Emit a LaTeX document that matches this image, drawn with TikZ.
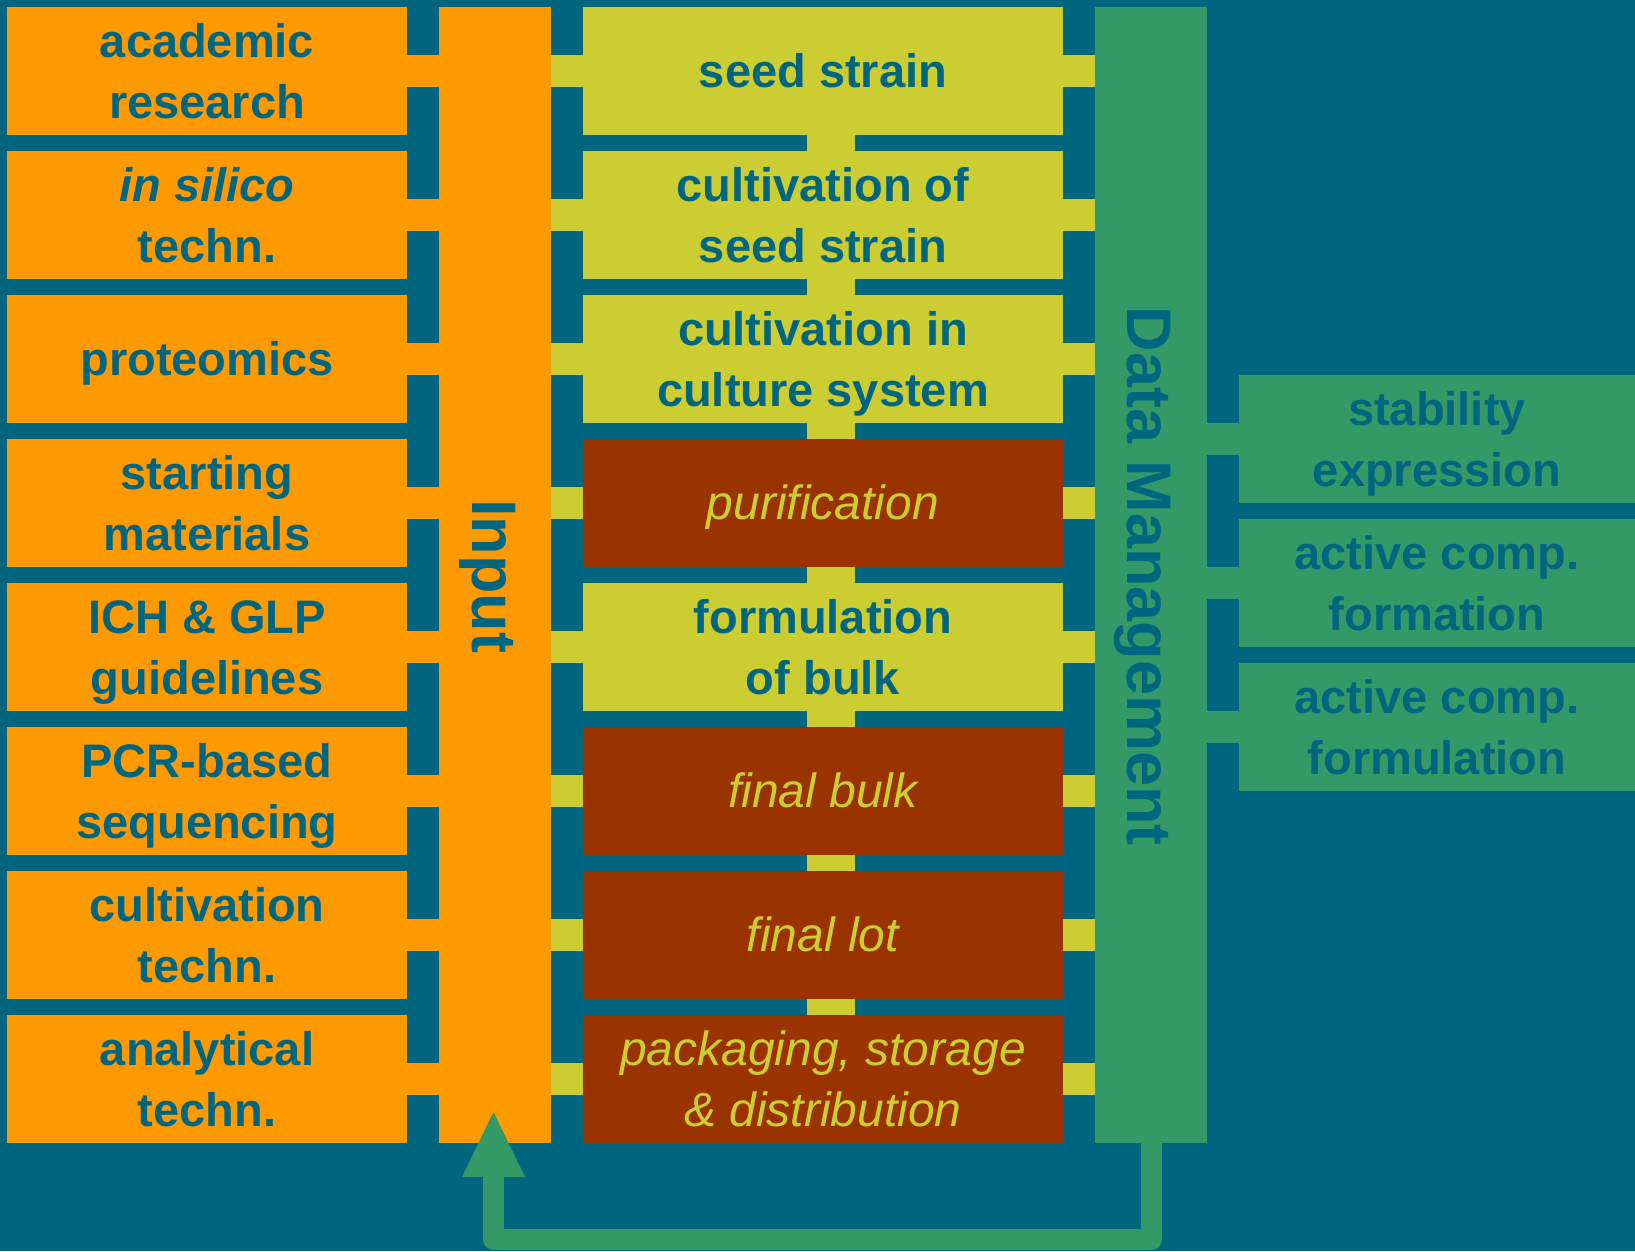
\documentclass[tikz,border=0pt]{standalone}
\usepackage{fontspec}
\setmainfont{Liberation Sans}
\usetikzlibrary{arrows.meta}
\definecolor{bgc}{HTML}{006680}
\definecolor{orng}{HTML}{FF9900}
\definecolor{ylw}{HTML}{CCCC33}
\definecolor{brn}{HTML}{993300}
\definecolor{grn}{HTML}{339966}
\newcommand\mystrut{\rule[-10pt]{0pt}{53pt}}
\newcommand\bfs{\fontsize{47}{61}\selectfont\bfseries}
\newcommand\ifs{\fontsize{48}{61}\selectfont\itshape}
\begin{document}
\begin{tikzpicture}[x=1pt,y=-1pt,
  boxbase/.style={inner sep=0pt, outer sep=0pt, align=center, minimum height=128pt},
  lbox/.style={boxbase, fill=orng, minimum width=400pt, text=bgc, font=\bfs},
  mbox/.style={boxbase, fill=ylw, minimum width=480pt, text=bgc, font=\bfs},
  bbox/.style={boxbase, fill=brn, minimum width=480pt, text=ylw, font=\ifs},
  rbox/.style={boxbase, fill=grn, minimum width=396pt, text=bgc, font=\bfs},
  barbox/.style={inner sep=0pt, outer sep=0pt, minimum width=112pt, minimum height=1136pt},
  bartext/.style={inner sep=0pt, outer sep=0pt, rotate=-90, anchor=base, text=bgc, font=\fontsize{63}{70}\selectfont\bfseries},
  hconn/.style={line width=32pt},
  vconn/.style={line width=48pt, ylw},
  fbline/.style={line width=21pt, grn, line join=round,
    -{Triangle[width=63pt,length=65pt,line width=0pt]}}
]
\fill[bgc] (0,0) rectangle (1635,1251);
\useasboundingbox (0,0) rectangle (1635,1251);

% bars
\node[barbox, fill=orng] (inp) at (495,575) {};
\node[barbox, fill=grn] (dm) at (1151,575) {};
\node[bartext] (inptxt) at (472,576) {Input};
\node[bartext] (dmtxt) at (1127,576.5) {Data Management};

% left boxes
\node[lbox] (l1) at (207,71)  {\mystrut academic\\\mystrut research};
\node[lbox] (l2) at (207,215) {\mystrut\textit{in silico}\\\mystrut techn.};
\node[lbox] (l3) at (207,359) {\mystrut proteomics};
\node[lbox] (l4) at (207,503) {\mystrut starting\\\mystrut materials};
\node[lbox] (l5) at (207,647) {\mystrut ICH \& GLP\\\mystrut guidelines};
\node[lbox] (l6) at (207,791) {\mystrut PCR-based\\\mystrut sequencing};
\node[lbox] (l7) at (207,935) {\mystrut cultivation\\\mystrut techn.};
\node[lbox] (l8) at (207,1079){\mystrut analytical\\\mystrut techn.};

% middle boxes
\node[mbox] (m1) at (823,71)  {\mystrut seed strain};
\node[mbox] (m2) at (823,215) {\mystrut cultivation of\\\mystrut seed strain};
\node[mbox] (m3) at (823,359) {\mystrut cultivation in\\\mystrut culture system};
\node[bbox] (m4) at (823,503) {\mystrut purification};
\node[mbox] (m5) at (823,647) {\mystrut formulation\\\mystrut of bulk};
\node[bbox] (m6) at (823,791) {\mystrut final bulk};
\node[bbox] (m7) at (823,935) {\mystrut final lot};
\node[bbox] (m8) at (823,1079){\mystrut packaging, storage\\\mystrut\& distribution};

% right boxes
\node[rbox] (r1) at (1437,439) {\mystrut stability\\\mystrut expression};
\node[rbox] (r2) at (1437,583) {\mystrut active comp.\\\mystrut formation};
\node[rbox] (r3) at (1437,727) {\mystrut active comp.\\\mystrut formulation};

% left connectors
\foreach \n in {l1,l2,l3,l4,l5,l6,l7,l8}
  \draw[hconn, orng] (\n.east) -- (\n.east -| inp.west);
% middle connectors
\foreach \n in {m1,m2,m3,m4,m5,m6,m7,m8}{
  \draw[hconn, ylw] (\n.west -| inp.east) -- (\n.west);
  \draw[hconn, ylw] (\n.east) -- (\n.east -| dm.west);
}
% vertical connectors
\foreach \a/\b in {m1/m2,m2/m3,m3/m4,m4/m5,m5/m6,m6/m7,m7/m8}
  \draw[vconn] ([xshift=8pt]\a.south) -- ([xshift=8pt]\b.north);
% right connectors
\foreach \n in {r1,r2,r3}
  \draw[hconn, grn] (\n.west -| dm.east) -- (\n.west);

% feedback arrow
\draw[fbline] (dm.south) -- ++(0,96.5) -| ([xshift=-1.5pt,yshift=31pt]inp.south);
\end{tikzpicture}
\end{document}
